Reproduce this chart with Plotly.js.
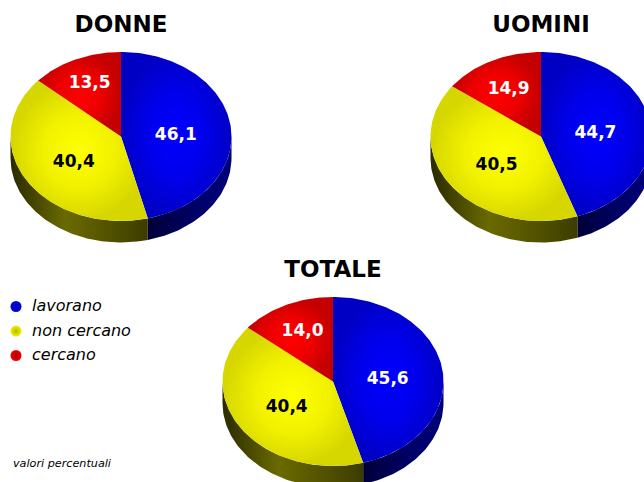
<!DOCTYPE html>
<html><head><meta charset="utf-8">
<script src="https://cdn.plot.ly/plotly-3.0.1.min.js"></script>
<style>html,body{margin:0;padding:0;background:#fff}#c{width:644px;height:482px}</style>
</head><body><div id="c"></div>
<script>
const categories = ["lavorano", "non cercano", "cercano"];
const donne = [46.1, 40.4, 13.5];
const uomini = [44.7, 40.5, 14.9];
const totale = [45.6, 40.4, 14.0];
const pieTitles = ["DONNE", "UOMINI", "TOTALE"];
const tiltedPies = [
  {values: donne, cx: 121, cy: 136.5, titleY: 26, shift: [[0,4],[0,4.5],[0,0]]},
  {values: uomini, cx: 541, cy: 136.5, titleY: 26, shift: [[0,4],[0,4],[2,5.5]]},
  {values: totale, cx: 333, cy: 381.5, titleY: 271, shift: [[0,4],[0,3.5],[2,3]]}
];
const rx = 110.5, ry = 84.5, depth = 21.5;
const topScales = [
  [[0,'#0000ff'],[0.5,'#0000ec'],[1,'#0000c4']],
  [[0,'#ffff00'],[0.5,'#f2f200'],[1,'#d6d600']],
  [[0,'#ff0000'],[0.5,'#ee0000'],[1,'#c40000']]
];
const wallScales = [
  [[0,'#000038'],[0.6,'#00006a'],[1,'#000078']],
  [[0,'#2a2a00'],[0.4,'#6a6a00'],[0.8,'#4c4c00'],[1,'#3c3c00']],
  [[0,'#400000'],[1,'#700000']]
];
const labelColors = ['#ffffff', '#000000', '#ffffff'];
const labelRadius = [0.5, 0.5, 0.69];
const font = 'DejaVu Sans, Verdana, sans-serif';
const traces = [];

function pt(p, a, dy) {
  return [p.cx + rx * Math.sin(a), p.cy - ry * Math.cos(a) + (dy || 0)];
}
function arc(p, a0, a1, dy) {
  const n = Math.max(2, Math.ceil(Math.abs(a1 - a0) / 0.02)), out = [];
  for (let i = 0; i <= n; i++) out.push(pt(p, a0 + (a1 - a0) * i / n, dy));
  return out;
}
function addPoly(points, scale, type, x0, x1) {
  const fg = {type: type, colorscale: scale};
  if (type === 'horizontal') { fg.start = x0; fg.stop = x1; }
  traces.push({
    type: 'scatter', mode: 'lines', x: points.map(q => q[0]), y: points.map(q => q[1]),
    fill: 'toself', line: {width: 0}, fillgradient: fg, hoverinfo: 'skip', showlegend: false
  });
}
tiltedPies.forEach((p, pi) => {
  const total = p.values.reduce((a, b) => a + b, 0);
  let acc = 0;
  const spans = p.values.map(v => { const s = [acc, acc + v / total * 2 * Math.PI]; acc = s[1]; return s; });
  spans.forEach((s, i) => {
    const a0 = Math.max(s[0], Math.PI / 2), a1 = Math.min(s[1], 3 * Math.PI / 2);
    if (a1 <= a0) return;
    const front = arc(p, a0, a1, 0), back = arc(p, a1, a0, depth);
    const xs = front.map(q => q[0]);
    addPoly(front.concat(back), wallScales[i], 'horizontal', Math.min(...xs), Math.max(...xs));
  });
  spans.forEach((s, i) => {
    addPoly([[p.cx, p.cy]].concat(arc(p, s[0], s[1], 0)), topScales[i], 'radial');
  });
  traces.push({
    type: 'scatter', mode: 'text', hoverinfo: 'skip', showlegend: false,
    x: spans.map((s, i) => p.cx + labelRadius[i] * rx * Math.sin((s[0] + s[1]) / 2) + p.shift[i][0]),
    y: spans.map((s, i) => p.cy - labelRadius[i] * ry * Math.cos((s[0] + s[1]) / 2) + p.shift[i][1]),
    text: p.values.map(v => v.toFixed(1).replace('.', ',')),
    textposition: 'middle center',
    textfont: {family: font, size: 17, weight: 700, color: labelColors}
  });
  traces.push({
    type: 'scatter', mode: 'text', hoverinfo: 'skip', showlegend: false,
    x: [p.cx], y: [p.titleY], text: [pieTitles[pi]], textposition: 'middle center',
    textfont: {family: font, size: 23, weight: 700, color: '#000'}
  });
});
const legendDots = ['#0000f0', '#f0f000', '#f00000'];
const legendEdges = ['#0000a8', '#b8b800', '#a80000'];
const legendY = [306.5, 331, 355.5];
categories.forEach((c, i) => {
  traces.push({
    type: 'scatter', mode: 'markers', hoverinfo: 'skip', showlegend: false,
    x: [16], y: [legendY[i]],
    marker: {size: 11, color: legendDots[i], line: {width: 0}, gradient: {type: 'radial', color: legendEdges[i]}}
  });
  traces.push({
    type: 'scatter', mode: 'text', hoverinfo: 'skip', showlegend: false,
    x: [32], y: [legendY[i] + 0.8], text: [c], textposition: 'middle right',
    textfont: {family: font, size: 16, style: 'italic', color: '#000'}
  });
});
traces.push({
  type: 'scatter', mode: 'text', hoverinfo: 'skip', showlegend: false,
  x: [13], y: [464], text: ['valori percentuali'], textposition: 'middle right',
  textfont: {family: font, size: 11.2, style: 'italic', color: '#000'}
});
Plotly.newPlot('c', traces, {
  width: 644, height: 482, margin: {l: 0, r: 0, t: 0, b: 0},
  paper_bgcolor: '#fff', plot_bgcolor: '#fff', showlegend: false,
  xaxis: {range: [0, 644], visible: false, fixedrange: true},
  yaxis: {range: [482, 0], visible: false, fixedrange: true}
}, {displayModeBar: false, staticPlot: true});
</script></body></html>
